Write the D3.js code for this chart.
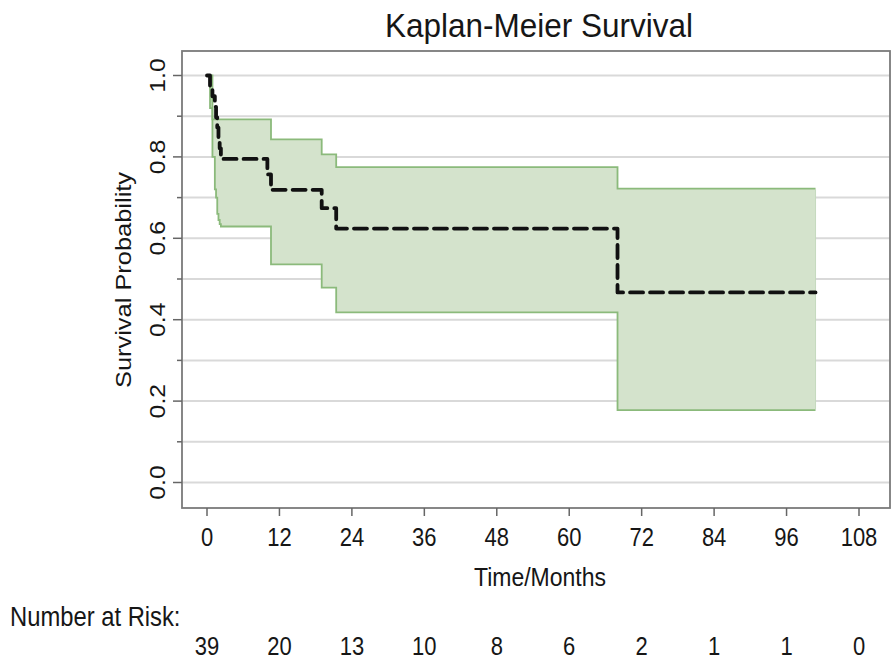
<!DOCTYPE html>
<html>
<head>
<meta charset="utf-8">
<script src="https://cdn.jsdelivr.net/npm/d3@7"></script>
<style>
  html, body { margin: 0; padding: 0; background: #fff; }
  svg { display: block; }
  text { font-family: "Liberation Sans", Arial, sans-serif; fill: #161616; }
</style>
</head>
<body>
<svg id="chart" width="892" height="663"></svg>
<script>
// ---- data ----
const kmTime  = [0, 0.5, 0.9, 1.3, 1.5, 1.7, 1.9, 2.1, 2.3, 10.0, 10.6, 19.0, 21.4, 68.0];
const kmSurv  = [1.000, 0.974, 0.949, 0.923, 0.897, 0.872, 0.846, 0.821, 0.795, 0.757, 0.719, 0.674, 0.624, 0.467];
const ciUpper = [1.000, 1.000, 0.892, 0.892, 0.892, 0.892, 0.892, 0.892, 0.892, 0.892, 0.843, 0.806, 0.775, 0.722];
const ciLower = [1.000, 0.920, 0.800, 0.720, 0.700, 0.660, 0.645, 0.635, 0.629, 0.629, 0.536, 0.479, 0.418, 0.178];
const lastTime = 100.8;
const xTicks = [0, 12, 24, 36, 48, 60, 72, 84, 96, 108];
const yTicks = [0, 0.2, 0.4, 0.6, 0.8, 1.0];
const yMinorTicks = [0.1, 0.3, 0.5, 0.7, 0.9];
const atRisk = [39, 20, 13, 10, 8, 6, 2, 1, 1, 0];

const title = "Kaplan-Meier Survival";
const xTitle = "Time/Months";
const yTitle = "Survival Probability";
const riskTitle = "Number at Risk:";

// ---- layout ----
const frame = { left: 182, right: 890, top: 51, bottom: 508 };
const sy = 1.13; // vertical text stretch seen in the reference

const svg = d3.select("#chart");
const x = d3.scaleLinear().domain([0, 108]).range([207, 859]);
const y = d3.scaleLinear().domain([0, 1]).range([482.5, 75.5]);

// gridlines
const gridVals = d3.range(0, 11).map(i => i / 10);
svg.append("g").selectAll("line").data(gridVals).join("line")
  .attr("x1", frame.left).attr("x2", frame.right)
  .attr("y1", d => y(d)).attr("y2", d => y(d))
  .attr("stroke", "#d9d9d9").attr("stroke-width", 2);

// confidence band
const rows = kmTime.map((t, i) => ({ t, s: kmSurv[i], u: ciUpper[i], l: ciLower[i] }));
rows.push({ t: lastTime, s: kmSurv[kmSurv.length - 1], u: ciUpper[ciUpper.length - 1], l: ciLower[ciLower.length - 1] });

const area = d3.area().curve(d3.curveStepAfter)
  .x(d => x(d.t)).y0(d => y(d.l)).y1(d => y(d.u));
svg.append("path").datum(rows)
  .attr("d", area)
  .attr("fill", "#d4e3cc").attr("stroke", "none");

const upLine = d3.line().curve(d3.curveStepAfter).x(d => x(d.t)).y(d => y(d.u));
const loLine = d3.line().curve(d3.curveStepAfter).x(d => x(d.t)).y(d => y(d.l));
[upLine, loLine].forEach(gen => {
  svg.append("path").datum(rows).attr("d", gen)
    .attr("fill", "none").attr("stroke", "#8bba7b").attr("stroke-width", 1.8);
});
// right closing edge of band
svg.append("line")
  .attr("x1", x(lastTime)).attr("x2", x(lastTime))
  .attr("y1", y(ciUpper[ciUpper.length - 1])).attr("y2", y(ciLower[ciLower.length - 1]))
  .attr("stroke", "#c5d9bd").attr("stroke-width", 1);

// KM curve
const kmLine = d3.line().curve(d3.curveStepAfter).x(d => x(d.t)).y(d => y(d.s));
svg.append("path").datum(rows)
  .attr("d", kmLine)
  .attr("fill", "none").attr("stroke", "#111").attr("stroke-width", 3.8)
  .attr("stroke-dasharray", "13,7").attr("stroke-linejoin", "round").attr("stroke-linecap", "round");

// frame
svg.append("rect")
  .attr("x", frame.left).attr("y", frame.top)
  .attr("width", frame.right - frame.left).attr("height", frame.bottom - frame.top)
  .attr("fill", "none").attr("stroke", "#7a7a7a").attr("stroke-width", 1.8);

// y axis ticks
svg.append("g").selectAll("line").data(yTicks).join("line")
  .attr("x1", frame.left - 9).attr("x2", frame.left)
  .attr("y1", d => y(d)).attr("y2", d => y(d))
  .attr("stroke", "#666").attr("stroke-width", 1.5);
svg.append("g").selectAll("line").data(yMinorTicks).join("line")
  .attr("x1", frame.left - 5).attr("x2", frame.left)
  .attr("y1", d => y(d)).attr("y2", d => y(d))
  .attr("stroke", "#666").attr("stroke-width", 1.5);
svg.append("g").selectAll("text").data(yTicks).join("text")
  .attr("transform", d => `translate(165,${y(d)}) scale(1,${sy}) rotate(-90)`)
  .attr("text-anchor", "middle").attr("font-size", 22)
  .text(d => d.toFixed(1));

// y title
svg.append("text")
  .attr("transform", `translate(131,280) scale(1,${sy}) rotate(-90)`)
  .attr("text-anchor", "middle").attr("font-size", 22.5)
  .text(yTitle);

// x axis ticks
svg.append("g").selectAll("line").data(xTicks).join("line")
  .attr("x1", d => x(d)).attr("x2", d => x(d))
  .attr("y1", frame.bottom).attr("y2", frame.bottom + 8)
  .attr("stroke", "#666").attr("stroke-width", 1.5);
svg.append("g").selectAll("text").data(xTicks).join("text")
  .attr("transform", d => `translate(${x(d)},546) scale(1,${sy})`)
  .attr("text-anchor", "middle").attr("font-size", 22)
  .text(d => d);

// x title
svg.append("text")
  .attr("transform", `translate(540,586) scale(1,${sy})`)
  .attr("text-anchor", "middle").attr("font-size", 23)
  .text(xTitle);

// title
svg.append("text")
  .attr("transform", `translate(539,37) scale(1,1.05)`)
  .attr("text-anchor", "middle").attr("font-size", 31.5)
  .text(title);

// number at risk
svg.append("text")
  .attr("transform", `translate(10,626) scale(1,${sy})`)
  .attr("font-size", 23.8)
  .text(riskTitle);
svg.append("g").selectAll("text").data(atRisk).join("text")
  .attr("transform", (d, i) => `translate(${x(xTicks[i])},655) scale(1,${sy})`)
  .attr("text-anchor", "middle").attr("font-size", 22)
  .text(d => d);
</script>
</body>
</html>
